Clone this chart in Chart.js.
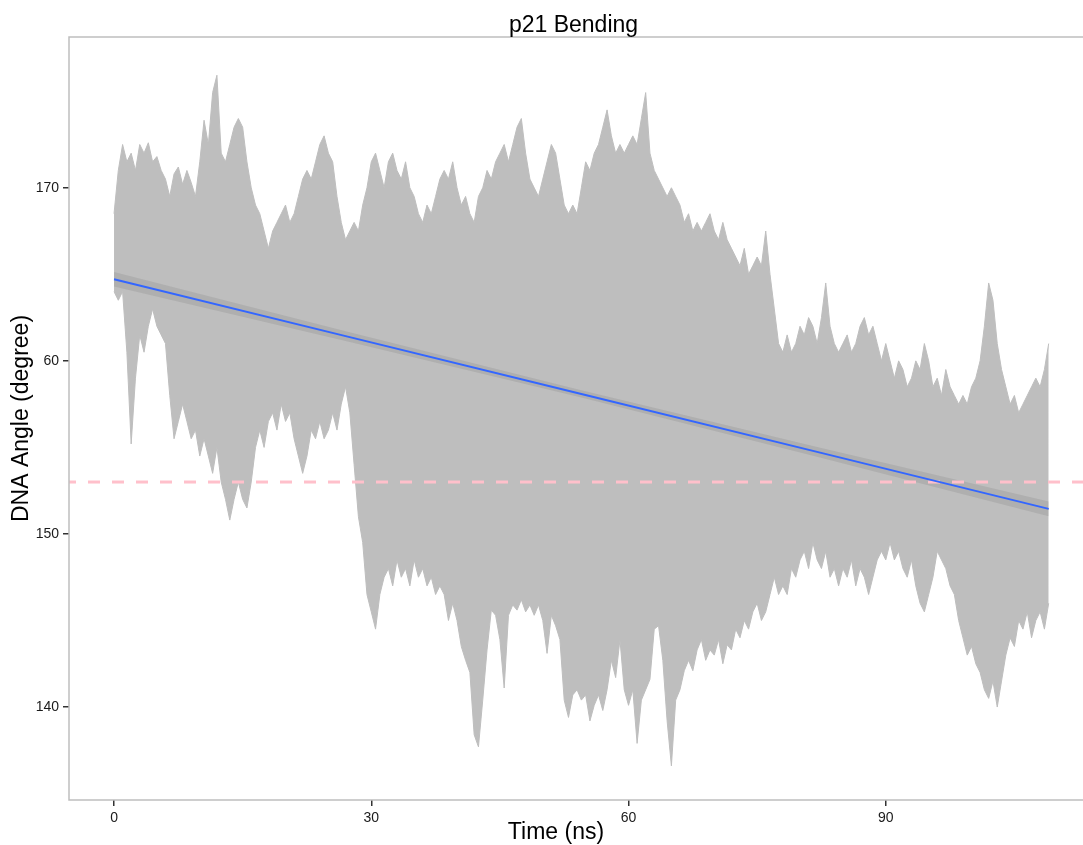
<!DOCTYPE html>
<html><head><meta charset="utf-8">
<script src="https://cdn.jsdelivr.net/npm/chart.js@4/dist/chart.umd.min.js"></script>
<style>html,body{margin:0;padding:0;background:#fff}#wrap{width:1083px;height:845px}</style>
</head><body><div id="wrap"><canvas id="c" width="1083" height="845"></canvas></div>
<script>
const titleText = 'p21 Bending';
const xTitle = 'Time (ns)';
const yTitle = 'DNA Angle (degree)';
const timeStep = 0.5; // ns between envelope samples
// upper envelope of the DNA angle trace (degree), every 0.5 ns from 0 to 109 ns
const angleUpper = [
 168.5,171,172.5,171.5,172,171,172.5,172,172.6,171.5,171.8,171,170.5,169.5,170.8,171.2,170.2,171,170.3,169.5,
 171.5,173.9,172.5,175.5,176.5,172,171.5,172.5,173.5,174,173.5,171.5,170,169,168.5,167.5,166.5,167.5,168,168.5,
 169,168,168.5,169.5,170.5,171,170.5,171.5,172.5,173,172,171.5,169.5,168,167,167.5,168,167.5,169,170,
 171.5,172,171,170,171.5,172,171,170.5,171.5,170,169.5,168.5,168,169,168.5,169.5,170.5,171,170.5,171.5,
 170,169,169.5,168.5,168,169.5,170,171,170.5,171.5,172,172.5,171.5,172.5,173.5,174,172,170.5,170,169.5,
 170.5,171.5,172.5,172,170.5,169,168.5,169,168.5,170,171.5,171,172,172.5,173.5,174.5,173,172,172.5,172,
 172.5,173,172.5,174,175.5,172,171,170.5,170,169.5,170,169.5,169,168,168.5,167.5,168,167.5,168,168.5,
 167.5,167,168,167,166.5,166,165.5,166.5,165,165.5,166,165.5,167.5,165,163,161,160.5,161.5,160.5,161,
 162,161.5,162.5,162,161,162.5,164.5,162,161,160.5,161,161.5,160.5,161,162,162.5,161.5,162,161,160,
 161,160,159,160,159.5,158.5,159,160,159.5,161,160,158.5,159,158,159.5,158.5,158,157.5,158,157.5,
 158.5,159,160,162,164.5,163.5,161,159.5,158.5,157.5,158,157,157.5,158,158.5,159,158.5,159.5,161
];
// lower envelope of the DNA angle trace (degree), same sampling
const angleLower = [
 164,163.5,164,160.5,155.2,159,161.5,160.5,162,163,162,161.5,161,158,155.5,156.5,157.5,156.5,155.5,156,
 154.5,155.5,154.5,153.5,155,153,152,150.8,152,153,152,151.5,153,155,156,155,156.5,157,156,157.5,
 156.5,157,155.5,154.5,153.5,154.5,156,155.5,156.5,155.5,156,157,156,157.5,158.5,157,154,151,149.5,146.5,
 145.5,144.5,146.5,147.5,148,147,148.5,147.5,148,147,148.5,147.5,148,147,147.5,146.5,147,146.5,145,146,
 145,143.5,142.7,142,138.4,137.7,140.4,143.3,145.6,145.3,143.9,141.1,145.3,145.9,145.6,146.2,145.5,145.9,145.3,145.9,
 145,143.1,145.3,144.7,143.9,140.4,139.4,140.7,141,140.4,140.7,139.2,140.1,140.7,139.8,141,142.7,141.7,143.9,141,
 140.1,141,137.9,140.4,141,141.6,144.5,144.7,142.7,139.2,136.6,140.4,141,142.1,142.7,142.1,143.3,143.9,142.7,143.3,
 143,143.9,142.5,143.6,143.3,144.5,144,145,144.5,145.5,146,145,145.5,146.5,147.5,146.5,147,146.5,148,147.5,
 148.5,149,148,149.5,148.5,148,149,147.5,148,147,148,147.5,148.5,147,148,147.5,146.5,147.5,148.5,149,
 148.5,149.5,148.5,149,148,147.5,148.5,147,146,145.5,146.5,147.5,149,148.5,148,147,146.5,145,144,143,
 143.5,142.5,142,141,140.5,141.5,140,141.5,143,144,143.5,145,144.5,145.5,144,145,145.5,144.5,146
];
// linear fit with confidence band
const fitTimes = [0, 27.25, 54.5, 81.75, 109];
const fitAngle = [164.72, 161.40, 158.09, 154.77, 151.45];
const fitHalfBand = [0.42, 0.28, 0.21, 0.28, 0.42];
const refAngle = 153.0;
const xMin = -5.25, xMax = 113.0;
const yMin = 134.63, yMax = 178.71;
const xTicks = [0, 30, 60, 90];
const xTickLabels = ['0', '30', '60', '90'];
const yTicks = [140, 150, 160, 170];
const yTickLabels = ['140', '150', '60', '170'];

const FONT = '"Liberation Sans", Arial, Helvetica, sans-serif';
const GRAY = '#BEBEBE';

const upperPts = angleUpper.map((v, i) => ({x: i * timeStep, y: v}));
const lowerPts = angleLower.map((v, i) => ({x: i * timeStep, y: v}));
const bandUp = fitTimes.map((t, i) => ({x: t, y: fitAngle[i] + fitHalfBand[i]}));
const bandLo = fitTimes.map((t, i) => ({x: t, y: fitAngle[i] - fitHalfBand[i]}));
const fitPts = fitTimes.map((t, i) => ({x: t, y: fitAngle[i]}));
const refPts = [{x: xMin, y: refAngle}, {x: xMax, y: refAngle}];

const framePlugin = {
  id: 'frame',
  afterDraw(chart) {
    const {ctx, chartArea: a} = chart;
    ctx.save();
    ctx.strokeStyle = GRAY;
    ctx.lineWidth = 1.5;
    ctx.beginPath();
    ctx.moveTo(a.right + 2, a.top); ctx.lineTo(a.left, a.top);
    ctx.lineTo(a.left, a.bottom); ctx.lineTo(a.right + 2, a.bottom);
    ctx.stroke();
    ctx.fillStyle = '#000';
    ctx.font = '23px ' + FONT;
    ctx.textAlign = 'center';
    ctx.textBaseline = 'alphabetic';
    ctx.fillText(titleText, 573.5, 32);
    ctx.fillText(xTitle, 556, 839);
    ctx.restore();
  }
};

new Chart(document.getElementById('c'), {
  type: 'line',
  data: {
    datasets: [
      {data: upperPts, fill: '+1', backgroundColor: GRAY, borderColor: GRAY, borderWidth: 1, pointRadius: 0, order: 10, tension: 0},
      {data: lowerPts, fill: false, borderColor: GRAY, borderWidth: 1, pointRadius: 0, order: 10, tension: 0},
      {data: bandUp, fill: '+1', backgroundColor: 'rgba(153,153,153,0.4)', borderWidth: 0, pointRadius: 0, order: 8},
      {data: bandLo, fill: false, borderWidth: 0, pointRadius: 0, order: 8},
      {data: refPts, fill: false, borderColor: '#FFC0CB', borderWidth: 3, borderDash: [12, 12], borderDashOffset: 5, pointRadius: 0, order: 2},
      {data: fitPts, fill: false, borderColor: '#3366FF', borderWidth: 2, pointRadius: 0, order: 1}
    ]
  },
  options: {
    responsive: false,
    animation: false,
    devicePixelRatio: 1,
    layout: {padding: {top: 37, left: 0, right: 0, bottom: 0}},
    plugins: {legend: {display: false}, tooltip: {enabled: false}, title: {display: false}},
    scales: {
      x: {
        type: 'linear', min: xMin, max: xMax,
        afterBuildTicks: s => { s.ticks = xTicks.map(v => ({value: v})); },
        afterFit: s => { s.height = 45; },
        ticks: {callback: v => xTickLabels[xTicks.indexOf(v)], font: {family: FONT, size: 14}, color: '#1a1a1a', padding: 4, maxRotation: 0, autoSkip: false},
        grid: {drawOnChartArea: false, drawTicks: true, tickLength: 6, color: '#333', lineWidth: 1.5},
        border: {display: false}
      },
      y: {
        type: 'linear', min: yMin, max: yMax,
        afterBuildTicks: s => { s.ticks = yTicks.map(v => ({value: v})); },
        afterFit: s => { s.width = 69; },
        ticks: {callback: v => yTickLabels[yTicks.indexOf(v)], font: {family: FONT, size: 14}, color: '#1a1a1a', padding: 4, autoSkip: false},
        grid: {drawOnChartArea: false, drawTicks: true, tickLength: 6, color: '#333', lineWidth: 1.5},
        border: {display: false},
        title: {display: true, text: yTitle, font: {family: FONT, size: 23}, color: '#000', padding: {top: 8, bottom: 0}}
      }
    }
  },
  plugins: [framePlugin]
});
</script></body></html>
